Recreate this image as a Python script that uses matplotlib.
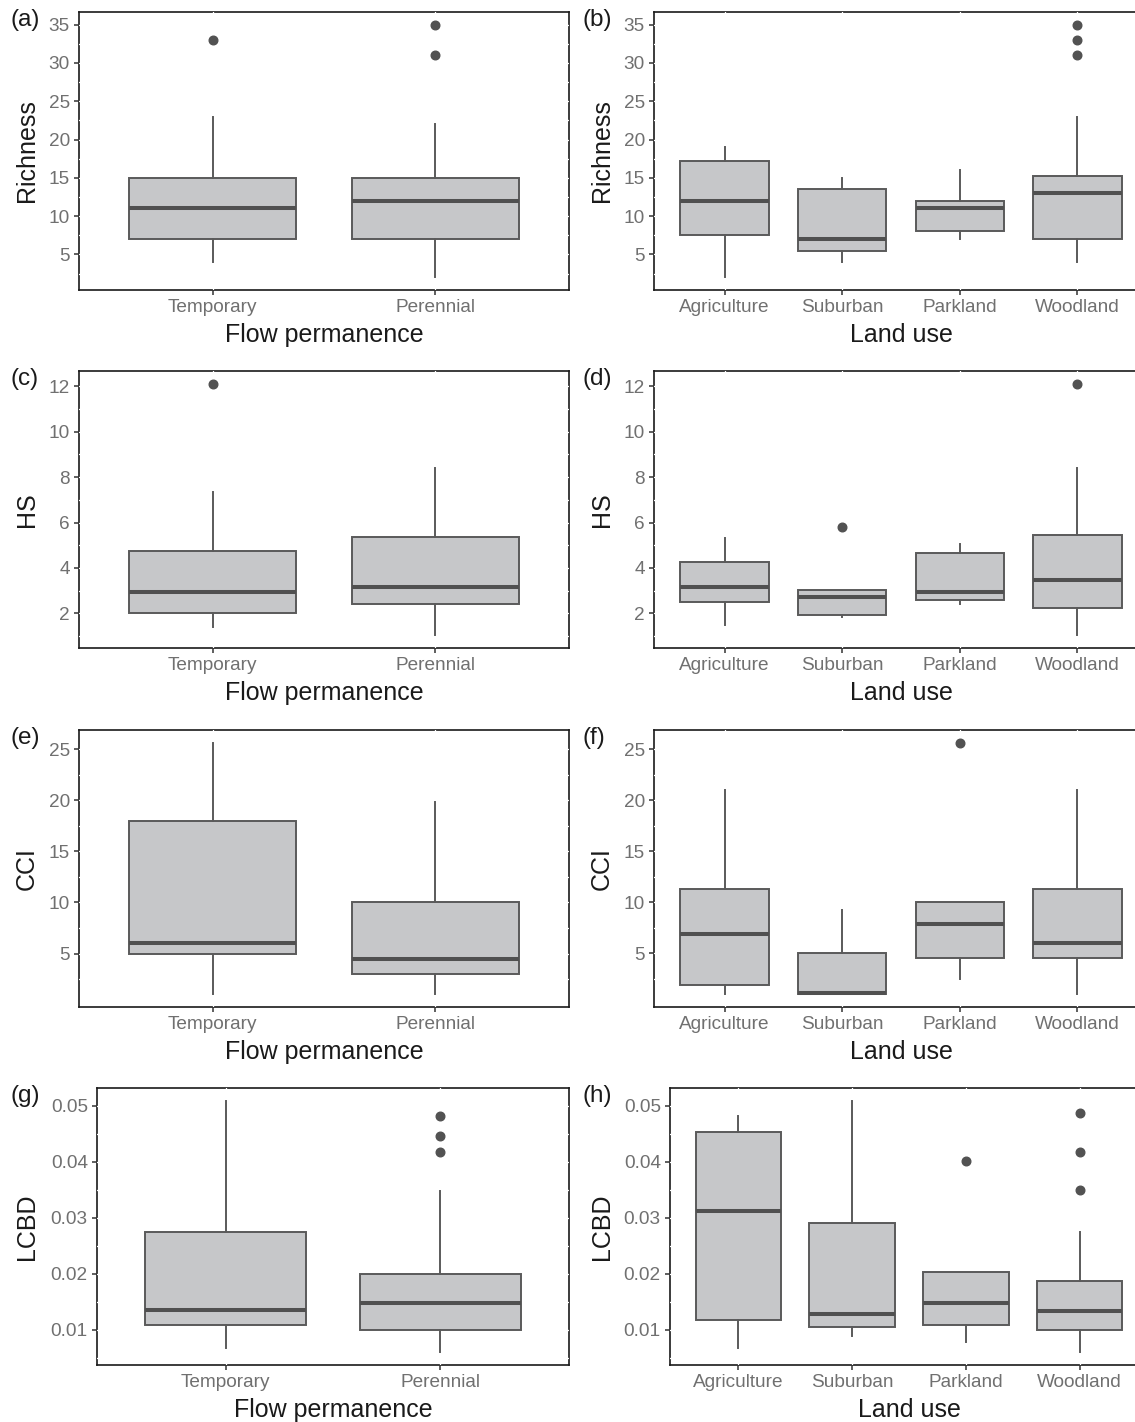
import numpy as np
import matplotlib
matplotlib.use('Agg')
import matplotlib.pyplot as plt

plt.rcParams['font.family'] = ['Liberation Sans', 'DejaVu Sans']

flow_groups = ['Temporary', 'Perennial']
land_groups = ['Agriculture', 'Suburban', 'Parkland', 'Woodland']

# each tuple: lower whisker, q1, median, q3, upper whisker
richness_flow = [(4, 7, 11, 15, 23), (2, 7, 12, 15, 22)]
richness_flow_out = [[33], [35, 31]]
richness_land = [(2, 7.5, 12, 17.2, 19), (4, 5.5, 7, 13.5, 15),
                 (7, 8, 11, 12, 16), (4, 7, 13, 15.25, 23)]
richness_land_out = [[], [], [], [35, 33, 31]]

hs_flow = [(1.38, 2.0, 2.93, 4.75, 7.36), (1.03, 2.4, 3.17, 5.35, 8.41)]
hs_flow_out = [[12.12], []]
hs_land = [(1.49, 2.51, 3.16, 4.25, 5.32), (1.82, 1.93, 2.72, 3.04, 3.04),
           (2.41, 2.61, 2.95, 4.64, 5.05), (1.03, 2.22, 3.48, 5.47, 8.41)]
hs_land_out = [[], [5.79], [], [12.12]]

cci_flow = [(1.0, 5.0, 6.0, 18.0, 25.65), (1.0, 3.0, 4.5, 10.0, 19.8)]
cci_flow_out = [[], []]
cci_land = [(1.0, 1.91, 6.85, 11.28, 21.0), (0.95, 0.95, 1.05, 5.03, 9.26),
            (2.46, 4.51, 7.86, 10.0, 10.0), (1.0, 4.5, 6.0, 11.28, 21.0)]
cci_land_out = [[], [], [25.65], []]

lcbd_flow = [(0.00668, 0.01083, 0.01356, 0.02748, 0.05089),
             (0.00597, 0.00988, 0.01474, 0.01996, 0.03477)]
lcbd_flow_out = [[], [0.04822, 0.04449, 0.04170]]
lcbd_land = [(0.00668, 0.01178, 0.03121, 0.04526, 0.0481),
             (0.00893, 0.01059, 0.01284, 0.02902, 0.05089),
             (0.00775, 0.01083, 0.01474, 0.02025, 0.02025),
             (0.00597, 0.00994, 0.01344, 0.01871, 0.02748)]
lcbd_land_out = [[], [], [0.04016], [0.04864, 0.0417, 0.03489]]

richness_ticks = [5, 10, 15, 20, 25, 30, 35]
hs_ticks = [2, 4, 6, 8, 10, 12]
cci_ticks = [5, 10, 15, 20, 25]
lcbd_ticks = [0.01, 0.02, 0.03, 0.04, 0.05]
lcbd_labels = ['0.01', '0.02', '0.03', '0.04', '0.05']

W, H = 1135, 1422
fig = plt.figure(figsize=(W / 100, H / 100), dpi=100)

box_fill = '#c6c7c9'
box_edge = '#5a5a5a'
tick_grey = '#707070'


def make_axes(left, top, right, bottom):
    return fig.add_axes([left / W, 1 - bottom / H, (right - left) / W, (bottom - top) / H])


def draw_panel(ax, stats, outliers, groups, ticks, tick_labels):
    bstats = []
    for (lo, q1, med, q3, hi), out in zip(stats, outliers):
        bstats.append(dict(whislo=lo, q1=q1, med=med, q3=q3, whishi=hi, fliers=out))
    n = len(groups)
    ax.bxp(bstats, positions=range(1, n + 1), widths=0.75, patch_artist=True,
           showcaps=False, manage_ticks=False, zorder=3,
           boxprops=dict(facecolor=box_fill, edgecolor=box_edge, linewidth=1.4),
           medianprops=dict(color='#505050', linewidth=2.9, solid_capstyle='butt'),
           whiskerprops=dict(color=box_edge, linewidth=1.4),
           flierprops=dict(marker='o', markerfacecolor='#525252',
                           markeredgecolor='#525252', markersize=6.2))

    # ggplot-like expansion of the data range
    vals = [v for s in stats for v in (s[0], s[4])] + [v for o in outliers for v in o]
    lo, hi = min(vals), max(vals)
    pad = (hi - lo) * 0.05
    ax.set_ylim(lo - pad, hi + pad)
    ax.set_xlim(0.4, n + 0.6)

    ax.set_xticks(range(1, n + 1))
    ax.set_xticklabels(groups)
    ax.set_yticks(ticks)
    ax.set_yticklabels(tick_labels)
    step = ticks[1] - ticks[0]
    minor = np.arange(ticks[0] - step / 2, ticks[-1] + step, step)
    minor = [m for m in minor if lo - pad < m < hi + pad]
    ax.set_yticks(minor, minor=True)

    ax.tick_params(axis='both', which='major', length=3.6, width=1.1, color='#333333',
                   labelcolor=tick_grey, labelsize=13.7, pad=3)
    ax.tick_params(axis='y', which='minor', length=0)
    ax.set_axisbelow('line')
    ax.grid(True, which='both', color='white', linewidth=0.9)
    for sp in ax.spines.values():
        sp.set_color('#1a1a1a')
        sp.set_linewidth(1.2)
        sp.set_zorder(1)


rows = [
    ('Richness', richness_flow, richness_flow_out, richness_land, richness_land_out,
     richness_ticks, [str(t) for t in richness_ticks]),
    ('HS', hs_flow, hs_flow_out, hs_land, hs_land_out,
     hs_ticks, [str(t) for t in hs_ticks]),
    ('CCI', cci_flow, cci_flow_out, cci_land, cci_land_out,
     cci_ticks, [str(t) for t in cci_ticks]),
    ('LCBD', lcbd_flow, lcbd_flow_out, lcbd_land, lcbd_land_out,
     lcbd_ticks, lcbd_labels),
]

tops = [12, 371, 730, 1088]
bottoms = [290, 648, 1007, 1365]
tags = ['(a)', '(b)', '(c)', '(d)', '(e)', '(f)', '(g)', '(h)']
right_l, right_r = 569, 1148   # right column runs past the picture edge

for i, (ylab, fstats, fout, lstats, lout, ticks, tlabels) in enumerate(rows):
    top, bottom = tops[i], bottoms[i]
    left_l = 97 if ylab == 'LCBD' else 79
    left_r = 670 if ylab == 'LCBD' else 654

    ax1 = make_axes(left_l, top, right_l, bottom)
    draw_panel(ax1, fstats, fout, flow_groups, ticks, tlabels)
    ax2 = make_axes(left_r, top, right_r, bottom)
    draw_panel(ax2, lstats, lout, land_groups, ticks, tlabels)

    ymid = 1 - (top + bottom) / 2 / H
    fig.text(27 / W, ymid, ylab, rotation=90, ha='center', va='center',
             fontsize=18, color='#1a1a1a')
    fig.text(602 / W, ymid, ylab, rotation=90, ha='center', va='center',
             fontsize=18, color='#1a1a1a')

    fig.text((left_l + right_l) / 2 / W, 1 - (bottom + 52) / H, 'Flow permanence',
             ha='center', va='baseline', fontsize=18, color='#1a1a1a')
    fig.text((left_r + right_r) / 2 / W, 1 - (bottom + 52) / H, 'Land use',
             ha='center', va='baseline', fontsize=18, color='#1a1a1a')

    fig.text(10 / W, 1 - (top - 3) / H, tags[2 * i], ha='left', va='top',
             fontsize=17.5, color='#1a1a1a')
    fig.text(583 / W, 1 - (top - 3) / H, tags[2 * i + 1], ha='left', va='top',
             fontsize=17.5, color='#1a1a1a')

fig.savefig('out.png', dpi=100)
